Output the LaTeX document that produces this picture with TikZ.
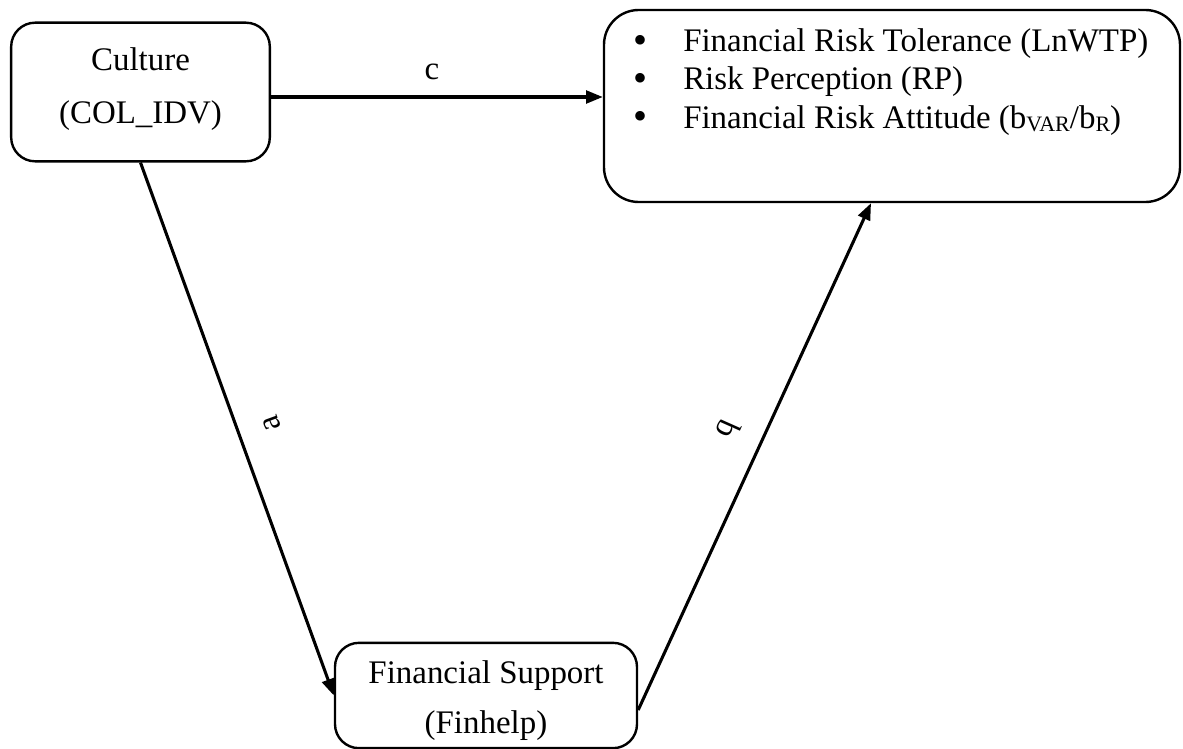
\documentclass[tikz,border=0pt]{standalone}
\usepackage{fontspec}
\setmainfont{Liberation Serif}
\usetikzlibrary{arrows.meta}

\tikzset{
  box/.style={draw, line width=1.8pt, rounded corners=#1, inner sep=0pt},
  box/.default=18pt,
  txt/.style={anchor=base, inner sep=0pt, font=\fontsize{24.7}{28}\selectfont},
  lbl/.style={inner sep=0pt, font=\fontsize{24.7}{28}\selectfont},
  link/.style={line width=2.3pt, -{Triangle[length=12.5pt, width=9.5pt]}},
}
\newcommand{\subsc}[1]{\raisebox{-0.12em}{\fontsize{16.5}{18}\selectfont #1}}
\newcommand{\bul}{{\fontsize{30}{30}\selectfont •}}

\begin{document}
\begin{tikzpicture}[x=0.75pt, y=-0.75pt]
  \useasboundingbox (0,0) rectangle (1183,749);

  % boxes
  \node[box, minimum width=194pt, minimum height=104pt] (cult) at (140.5,92) {};
  \node[box=26pt, minimum width=432pt, minimum height=144pt] (out) at (892,106) {};
  \node[box, minimum width=226.5pt, minimum height=79pt] (fin) at (486,695.5) {};

  % culture box text
  \node[txt] (cult1) at (140.5,71) {Culture};
  \node[txt] (cult2) at (140.5,124) {(COL\_IDV)};

  % outcome list
  \node[txt, anchor=base west] (o1) at (683,52) {Financial Risk Tolerance (LnWTP)};
  \node[txt, anchor=base west] (o2) at (683,90) {Risk Perception (RP)};
  \node[txt, anchor=base west] (o3) at (683,128) {Financial Risk Attitude (b\subsc{VAR}/b\subsc{R})};
  \node[txt] (b1) at (640,54) {\bul};
  \node[txt] (b2) at (640,92) {\bul};
  \node[txt] (b3) at (640,130) {\bul};

  % mediator box text
  \node[txt] (fin1) at (486,683) {Financial Support};
  \node[txt] (fin2) at (486,733) {(Finhelp)};

  % paths
  \draw[link] (cult.east |- 0,97) -- (out.west |- 0,97);
  \draw[link] (cult.south) -- (fin.west);
  \draw[link] (fin.east |- 0,710) -- (out.south -| 871,0);

  % path labels
  \node[lbl] (lc) at (432,72) {c};
  \node[lbl, rotate=110] (la) at (272,423) {a};
  \node[lbl, rotate=-114] (lb) at (728,430) {b};
\end{tikzpicture}
\end{document}
